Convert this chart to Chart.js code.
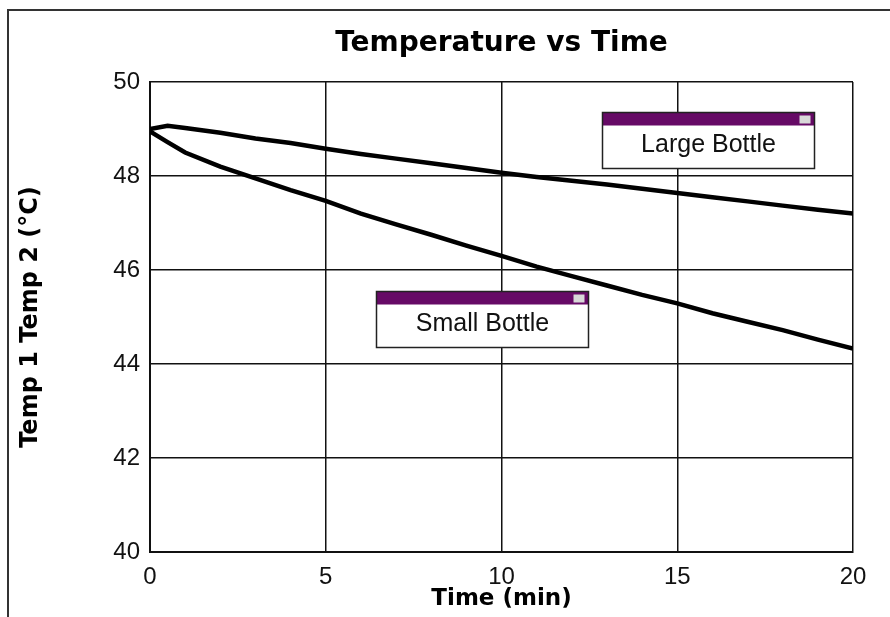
<!DOCTYPE html>
<html>
<head>
<meta charset="utf-8">
<script src="https://cdn.jsdelivr.net/npm/chart.js@4.4.1/dist/chart.umd.min.js"></script>
<style>
  html, body { margin: 0; padding: 0; background: #fff; }
  #wrap { width: 890px; height: 617px; position: relative; }
</style>
</head>
<body>
<div id="wrap"><canvas id="myChart" width="890" height="617"></canvas></div>
<script>
// temps, one point per minute
var temps = [0, 0.5, 1, 2, 3, 4, 5, 6, 7, 8, 9, 10, 11, 12, 13, 14, 15, 16, 17, 18, 19, 20];
var largeBottle = [49.0, 49.07, 49.02, 48.92, 48.8, 48.7, 48.58, 48.47, 48.37, 48.27, 48.17, 48.07, 47.98, 47.9, 47.82, 47.73, 47.64, 47.55, 47.46, 47.37, 47.28, 47.2];
var smallBottle = [48.95, 48.72, 48.5, 48.2, 47.95, 47.7, 47.47, 47.2, 46.97, 46.75, 46.52, 46.3, 46.07, 45.87, 45.67, 45.47, 45.29, 45.08, 44.9, 44.72, 44.52, 44.33];
var xTicks = [0, 5, 10, 15, 20];
var yTicks = [40, 42, 44, 46, 48, 50];

var policeGras = "'DejaVu Sans', Verdana, sans-serif";
var police = "'Liberation Sans', Arial, sans-serif";

function points(xs, ys) {
    return xs.map(function(x, i) { return {x: x, y: ys[i]}; });
}

// label boxes (anchored at a data position: top-left corner)
var etiquettes = [
    {texte: 'Large Bottle', x: 12.86, y: 49.36},
    {texte: 'Small Bottle', x: 6.43, y: 45.56}
];

var boites = {
    id: 'boites',
    afterDatasetsDraw: function(chart) {
        var ctx = chart.ctx;
        var sx = chart.scales.x, sy = chart.scales.y;
        ctx.save();
        etiquettes.forEach(function(e) {
            var x = Math.round(sx.getPixelForValue(e.x)) + 0.5;
            var y = Math.round(sy.getPixelForValue(e.y)) + 0.5;
            var w = 212, h = 56;
            ctx.fillStyle = '#fff';
            ctx.fillRect(x, y, w, h);
            ctx.fillStyle = '#660a66';
            ctx.fillRect(x, y, w, 13);
            ctx.fillStyle = '#d8d8d8';
            ctx.fillRect(x + w - 15, y + 3, 11, 8);
            ctx.strokeStyle = '#222';
            ctx.lineWidth = 1.5;
            ctx.strokeRect(x, y, w, h);
            ctx.fillStyle = '#111';
            ctx.font = "25px " + police;
            ctx.textAlign = 'center';
            ctx.textBaseline = 'middle';
            ctx.fillText(e.texte, x + w / 2, y + 33);
        });
        ctx.restore();
    }
};

var cadre = {
    id: 'cadre',
    beforeDraw: function(chart) {
        var ctx = chart.ctx;
        ctx.save();
        ctx.fillStyle = '#fff';
        ctx.fillRect(0, 0, chart.width, chart.height);
        ctx.strokeStyle = '#333';
        ctx.lineWidth = 2;
        ctx.beginPath();
        ctx.moveTo(8, 617);
        ctx.lineTo(8, 10);
        ctx.lineTo(890, 10);
        ctx.stroke();
        ctx.restore();
    }
};

var ctx = document.getElementById('myChart').getContext('2d');
var myChart = new Chart(ctx, {
    type: 'line',
    data: {
        datasets: [
        {
            label: 'Large Bottle',
            data: points(temps, largeBottle),
            borderColor: '#000',
            borderWidth: 4.5,
            pointRadius: 0,
            tension: 0
        },
        {
            label: 'Small Bottle',
            data: points(temps, smallBottle),
            borderColor: '#000',
            borderWidth: 4.5,
            pointRadius: 0,
            tension: 0
        }
        ]
    },
    options: {
        responsive: false,
        animation: false,
        layout: { padding: { left: 0, right: 37, top: 0, bottom: 0 } },
        plugins: {
            legend: { display: false },
            tooltip: { enabled: false },
            title: {
                display: true,
                fullSize: false,
                text: 'Temperature vs Time',
                color: '#000',
                font: { family: policeGras, size: 28, weight: 'bold' },
                padding: { top: 27, bottom: 21.4 }
            }
        },
        scales: {
            x: {
                type: 'linear',
                min: 0,
                max: 20,
                afterBuildTicks: function(scale) {
                    scale.ticks = xTicks.map(function(v) { return {value: v}; });
                },
                afterFit: function(scale) { scale.height = 65; },
                grid: { color: '#111', lineWidth: 1.5, drawTicks: false },
                border: { color: '#111', width: 2 },
                ticks: { color: '#111', padding: 11, font: { family: police, size: 24 } },
                title: {
                    display: true,
                    text: 'Time (min)',
                    color: '#000',
                    font: { family: policeGras, size: 23, weight: 'bold' },
                    padding: { top: 0, bottom: 4 }
                }
            },
            y: {
                min: 40,
                max: 50,
                afterBuildTicks: function(scale) {
                    scale.ticks = yTicks.map(function(v) { return {value: v}; });
                },
                afterFit: function(scale) { scale.width = 150; },
                grid: { color: '#111', lineWidth: 1.5, drawTicks: false },
                border: { color: '#111', width: 2 },
                ticks: { color: '#111', padding: 10, font: { family: police, size: 24 } },
                title: {
                    display: true,
                    text: 'Temp 1 Temp 2 (°C)',
                    color: '#000',
                    font: { family: policeGras, size: 24, weight: 'bold' },
                    padding: { top: 16, bottom: 0 }
                }
            }
        }
    },
    plugins: [cadre, boites]
});
</script>
</body>
</html>
